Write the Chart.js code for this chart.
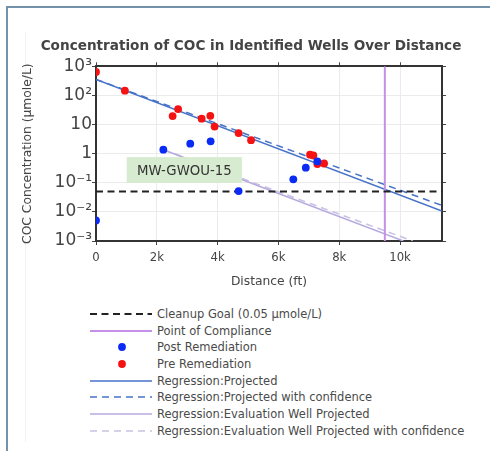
<!DOCTYPE html>
<html><head><meta charset="utf-8">
<script src="https://cdn.jsdelivr.net/npm/chart.js@4/dist/chart.umd.min.js"></script>
<style>
html,body{margin:0;padding:0;background:#fff;}
#wrap{position:relative;width:490px;height:451px;overflow:hidden;font-family:"DejaVu Sans",Verdana,sans-serif;background:#fff;}
#frame{position:absolute;left:6px;top:6px;width:600px;height:600px;border-left:2px solid #7391a8;border-top:2px solid #7391a8;}
#faint{position:absolute;left:25px;top:32px;width:0;height:410px;border-left:1px solid #f2f2f2;}
#cv{position:absolute;left:0;top:0;}
#legend{position:absolute;left:90px;top:305.7px;font-size:11.5px;color:#4a4a4a;}
.row{display:flex;align-items:center;height:16.67px;white-space:nowrap;}
.row svg{display:block;margin-right:5px;flex:none;}
</style>
</head><body>
<div id="wrap">
<div id="frame"></div>
<div id="faint"></div>
<canvas id="cv" width="490" height="300"></canvas>
<div id="legend"></div>
</div>
<script>
// ---- data ----
const xTickValues = [0, 2000, 4000, 6000, 8000, 10000];
const xTickLabels = ['0', '2k', '4k', '6k', '8k', '10k'];
const yTickValues = [0.001, 0.01, 0.1, 1, 10, 100, 1000];
const yTickLabels = ['10⁻³', '10⁻²', '10⁻¹', '1', '10', '10²', '10³'];

const preDistance = [0, 950, 2520, 2700, 3475, 3760, 3900, 4690, 5100, 7040, 7150, 7280, 7500];
const preConc     = [637, 146, 19.6, 34, 15.9, 20, 8.5, 5.1, 2.9, 0.92, 0.87, 0.44, 0.46];

const postDistance = [0, 2215, 3100, 3770, 4690, 6490, 6900, 7280];
const postConc     = [0.0051, 1.37, 2.2, 2.65, 0.052, 0.131, 0.33, 0.54];

const cleanupGoal = 0.05;
const complianceDistance = 9500;

const regDistance = [0, 11380];
const regConc     = [357, 0.0107];
const regConfDistance = [0, 11380];
const regConfConc     = [357, 0.0166];
const evalDistance = [2215, 10110];
const evalConc     = [1.37, 0.001];
const evalConfDistance = [2215, 10420];
const evalConfConc     = [1.37, 0.001];

const xMin = 0, xMax = 11380, yMin = 0.001, yMax = 1000;

const wellLabel = 'MW-GWOU-15';
const wellLabelBox = {xFrom: 1010, xTo: 4800, yTop: 0.76, yBottom: 0.098};

// ---- build ----
const pts = (xs, ys) => xs.map((x, i) => ({x: x, y: ys[i]}));
const FONT = '"DejaVu Sans", Verdana, sans-serif';

const lineDs = (label, data, color, width, dash) => ({
  label, data, showLine: true, borderColor: color, backgroundColor: color,
  borderWidth: width, borderDash: dash || [], pointRadius: 0, pointHoverRadius: 0, order: 1
});
const dotDs = (label, data, color) => ({
  label, data, showLine: false, borderColor: color, backgroundColor: color,
  pointRadius: 3.9, pointBorderWidth: 0, pointHoverRadius: 3.9, order: 0
});

const datasets = [
  lineDs('Cleanup Goal (0.05 µmole/L)', [{x: xMin, y: cleanupGoal}, {x: xMax, y: cleanupGoal}], '#222222', 2, [7, 4.5]),
  lineDs('Point of Compliance', [{x: complianceDistance, y: yMin}, {x: complianceDistance, y: yMax}], '#c690e6', 2),
  dotDs('Post Remediation', pts(postDistance, postConc), '#0a2af5'),
  dotDs('Pre Remediation', pts(preDistance, preConc), '#f51212'),
  lineDs('Regression:Projected', pts(regDistance, regConc), '#4672c8', 1.5),
  lineDs('Regression:Projected with confidence', pts(regConfDistance, regConfConc), '#4672c8', 1.5, [7, 5]),
  lineDs('Regression:Evaluation Well Projected', pts(evalDistance, evalConc), '#b7aadf', 1.5),
  lineDs('Regression:Evaluation Well Projected with confidence', pts(evalConfDistance, evalConfConc), '#c9c1e2', 1.5, [7, 5])
];

const setX = s => { s.ticks = xTickValues.map(v => ({value: v})); };
const setY = s => { s.ticks = yTickValues.map(v => ({value: v})); };

const boxPlugin = {
  id: 'wellBox',
  afterDatasetsDraw(chart) {
    const {ctx, scales: {x, y}} = chart;
    const l = x.getPixelForValue(wellLabelBox.xFrom), r = x.getPixelForValue(wellLabelBox.xTo);
    const t = y.getPixelForValue(wellLabelBox.yTop), b = y.getPixelForValue(wellLabelBox.yBottom);
    ctx.save();
    ctx.fillStyle = '#d7ebd0';
    ctx.fillRect(l, t, r - l, b - t);
    ctx.fillStyle = '#333';
    ctx.font = '13.3px ' + FONT;
    ctx.textAlign = 'center';
    ctx.textBaseline = 'middle';
    ctx.fillText(wellLabel, (l + r) / 2, (t + b) / 2 + 1);
    ctx.restore();
  }
};

const gridCommon = {color: '#ebebeb', tickColor: '#444', tickLength: 4, lineWidth: 1};
const borderCommon = {display: true, color: '#333', width: 2};

const chart = new Chart(document.getElementById('cv'), {
  type: 'scatter',
  data: {datasets},
  options: {
    responsive: false, animation: false, devicePixelRatio: 1,
    layout: {padding: {left: 12, right: 0, top: 0, bottom: 0}},
    plugins: {
      legend: {display: false},
      tooltip: {enabled: false},
      title: {display: true, text: 'Concentration of COC in Identified Wells Over Distance',
        color: '#444', font: {family: FONT, size: 13.6, weight: 'bold'}, padding: {top: 38, bottom: 8}}
    },
    scales: {
      x: {type: 'linear', position: 'bottom', min: xMin, max: xMax,
        afterBuildTicks: setX, afterFit: s => { s.height = 59; },
        ticks: {callback: (v, i) => xTickLabels[i], color: '#444', font: {family: FONT, size: 11.7}, padding: 6, maxRotation: 0, autoSkip: false},
        grid: gridCommon, border: borderCommon,
        title: {display: true, text: 'Distance (ft)', color: '#444', font: {family: FONT, size: 12.3}, padding: {top: 0, bottom: 10.9}}},
      x2: {type: 'linear', position: 'top', min: xMin, max: xMax,
        afterBuildTicks: setX, afterFit: s => { s.height = 4; },
        ticks: {display: false},
        grid: {drawOnChartArea: false, tickColor: '#444', tickLength: 4}, border: borderCommon},
      y: {type: 'logarithmic', position: 'left', min: yMin, max: yMax,
        afterBuildTicks: setY, afterFit: s => { s.width = 84; },
        ticks: {callback: (v, i) => yTickLabels[i], color: '#444', font: {family: FONT, size: 17}, padding: 0, autoSkip: false},
        grid: gridCommon, border: borderCommon,
        title: {display: true, text: 'COC Concentration (µmole/L)', color: '#444', font: {family: FONT, size: 12.3}, padding: {top: 8.6, bottom: 0}}},
      y2: {type: 'logarithmic', position: 'right', min: yMin, max: yMax,
        afterBuildTicks: setY, afterFit: s => { s.width = 48; },
        ticks: {display: false},
        grid: {drawOnChartArea: false, tickColor: '#444', tickLength: 4}, border: borderCommon}
    }
  },
  plugins: [boxPlugin]
});

// HTML legend built from the datasets
const legend = document.getElementById('legend');
const NS = 'http://www.w3.org/2000/svg';
chart.data.datasets.forEach(ds => {
  const row = document.createElement('div');
  row.className = 'row';
  const svg = document.createElementNS(NS, 'svg');
  svg.setAttribute('width', '62'); svg.setAttribute('height', '12');
  if (ds.showLine) {
    const ln = document.createElementNS(NS, 'line');
    ln.setAttribute('x1', '0'); ln.setAttribute('x2', '62');
    ln.setAttribute('y1', '6'); ln.setAttribute('y2', '6');
    ln.setAttribute('stroke', ds.borderColor);
    ln.setAttribute('stroke-width', ds.borderWidth);
    if (ds.borderDash.length) ln.setAttribute('stroke-dasharray', ds.borderDash.join(','));
    svg.appendChild(ln);
  } else {
    const c = document.createElementNS(NS, 'circle');
    c.setAttribute('cx', '32'); c.setAttribute('cy', '6'); c.setAttribute('r', '3.9');
    c.setAttribute('fill', ds.backgroundColor);
    svg.appendChild(c);
  }
  row.appendChild(svg);
  const span = document.createElement('span');
  span.textContent = ds.label;
  row.appendChild(span);
  legend.appendChild(row);
});
</script>
</body></html>
